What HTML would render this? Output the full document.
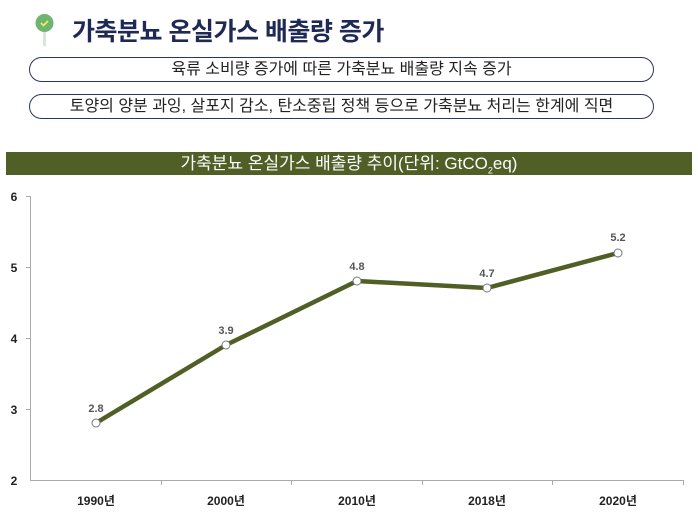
<!DOCTYPE html>
<html><head><meta charset="utf-8"><style>
body{margin:0;width:698px;height:518px;background:#fff;font-family:"Liberation Sans","Noto Sans CJK KR",sans-serif;position:relative;overflow:hidden}
.t{position:absolute;left:72px;top:12px;font-size:25px;font-weight:bold;color:#1e2a55;letter-spacing:-0.5px}
.pill{position:absolute;left:29px;width:623px;height:23px;border:1.5px solid #2a3560;border-radius:13px;text-align:center;font-size:16px;line-height:23px;color:#222}
.bar{position:absolute;left:6px;top:152px;width:686px;height:23px;background:#4f5f26;color:#fff;text-align:center;font-size:17px;line-height:23px}
</style></head><body>
<svg style="position:absolute;left:34px;top:12px" width="22" height="34"><rect x="9" y="18" width="3" height="16" fill="#d8e6d8"/><circle cx="10.5" cy="11" r="9" fill="#6fb56f"/><path d="M7 11l2.5 2.5 4.5-4.5" stroke="#ffe96a" stroke-width="1.6" fill="none"/></svg>
<div class="t">가축분뇨 온실가스 배출량 증가</div>
<div class="pill" style="top:57px">육류 소비량 증가에 따른 가축분뇨 배출량 지속 증가</div>
<div class="pill" style="top:94px">토양의 양분 과잉, 살포지 감소, 탄소중립 정책 등으로 가축분뇨 처리는 한계에 직면</div>
<div class="bar">가축분뇨 온실가스 배출량 추이(단위: GtCO<sub style="font-size:9px">2</sub>eq)</div>
<svg style="position:absolute;left:0;top:0" width="698" height="518" font-family="Liberation Sans,Noto Sans CJK KR,sans-serif">
<g stroke="#aaa" stroke-width="1">
<line x1="30.5" y1="196" x2="30.5" y2="480"/><line x1="30" y1="480.5" x2="683" y2="480.5"/>
<line x1="26" y1="196.5" x2="30" y2="196.5"/><line x1="26" y1="267.5" x2="30" y2="267.5"/><line x1="26" y1="338.5" x2="30" y2="338.5"/><line x1="26" y1="409.5" x2="30" y2="409.5"/>
<line x1="161.5" y1="480" x2="161.5" y2="485"/><line x1="291.5" y1="480" x2="291.5" y2="485"/><line x1="422.5" y1="480" x2="422.5" y2="485"/><line x1="552.5" y1="480" x2="552.5" y2="485"/><line x1="683.5" y1="480" x2="683.5" y2="485"/>
</g>
<g font-size="12" font-weight="bold" fill="#222" text-anchor="middle">
<text x="14" y="201">6</text><text x="14" y="272">5</text><text x="14" y="343">4</text><text x="14" y="414">3</text><text x="14" y="485">2</text>
<text x="96" y="505">1990년</text><text x="226" y="505">2000년</text><text x="357" y="505">2010년</text><text x="487" y="505">2018년</text><text x="618" y="505">2020년</text>
</g>
<polyline points="96,423 226,345 357,281 487,288 618,253" fill="none" stroke="#4f5f26" stroke-width="4.5" stroke-linejoin="round"/>
<g fill="#fff" stroke="#777" stroke-width="1"><circle cx="96" cy="423" r="4"/><circle cx="226" cy="345" r="4"/><circle cx="357" cy="281" r="4"/><circle cx="487" cy="288" r="4"/><circle cx="618" cy="253" r="4"/></g>
<g font-size="11" font-weight="bold" fill="#555" text-anchor="middle">
<text x="96" y="412">2.8</text><text x="226" y="334">3.9</text><text x="357" y="270">4.8</text><text x="487" y="277">4.7</text><text x="618" y="241">5.2</text>
</g>
</svg>
</body></html>
